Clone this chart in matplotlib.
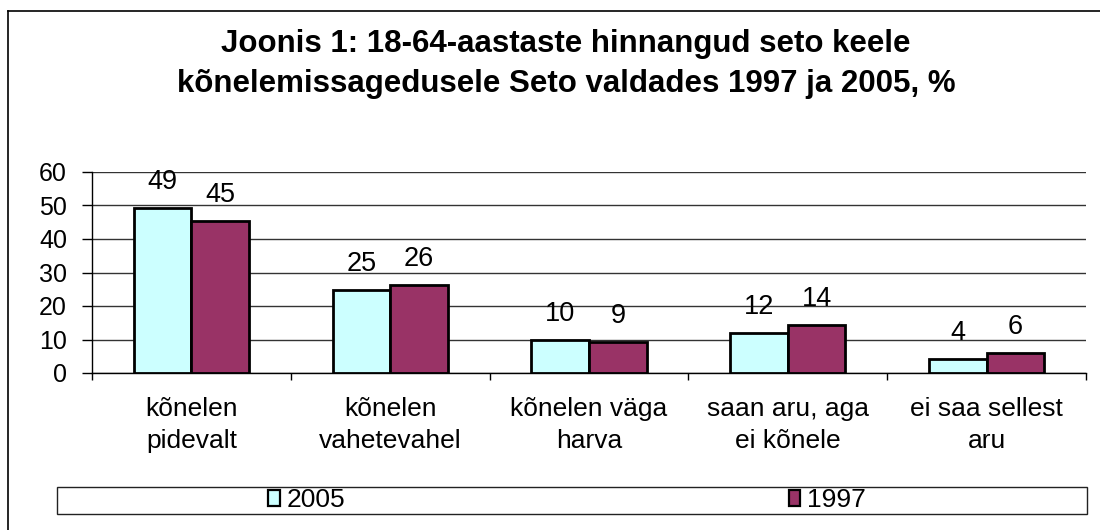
import matplotlib
matplotlib.use("Agg")
import matplotlib.pyplot as plt
from matplotlib.patches import Rectangle, Patch
from matplotlib.lines import Line2D
import numpy as np

categories = ["kõnelen\npidevalt", "kõnelen\nvahetevahel", "kõnelen väga\nharva",
              "saan aru, aga\nei kõnele", "ei saa sellest\naru"]
series_names = ["2005", "1997"]
values_2005 = [49.4, 24.8, 10.0, 12.0, 4.3]
values_1997 = [45.3, 26.2, 9.2, 14.3, 5.9]
yticks = [0, 10, 20, 30, 40, 50, 60]
title = "Joonis 1: 18-64-aastaste hinnangud seto keele\nkõnelemissagedusele Seto valdades 1997 ja 2005, %"

colors = ["#CCFFFF", "#993366"]

plt.rcParams['font.family'] = ['Liberation Sans', 'DejaVu Sans']

W, H = 1100, 530
fig = plt.figure(figsize=(11, 5.3), dpi=100)

def fx(px):
    return px / W

def fy(py):
    return 1 - py / H

# outer frame (left and top edges)
fig.add_artist(Line2D([fx(8), fx(8)], [fy(11), fy(540)], color="black", lw=1.2,
                      transform=fig.transFigure))
fig.add_artist(Line2D([fx(8), fx(1110)], [fy(11), fy(11)], color="black", lw=1.2,
                      transform=fig.transFigure))

ax = fig.add_axes([fx(92), fy(373), fx(1086) - fx(92), (373 - 172) / H])

x = np.arange(len(categories))
w = 0.29
b1 = ax.bar(x - w / 2, values_2005, w, color=colors[0], edgecolor="black", linewidth=2.0,
            label=series_names[0], zorder=3)
b2 = ax.bar(x + w / 2, values_1997, w, color=colors[1], edgecolor="black", linewidth=2.0,
            label=series_names[1], zorder=3)

for bars, vals in ((b1, values_2005), (b2, values_1997)):
    for rect, v in zip(bars, vals):
        ax.annotate(f"{v:.0f}", (rect.get_x() + rect.get_width() / 2, v),
                    xytext=(0, 13.5), textcoords="offset points",
                    ha="center", va="baseline", fontsize=19.5)

ax.set_xlim(-0.5, len(categories) - 0.5)
ax.set_ylim(0, 60)
ax.set_yticks(yticks)
ax.tick_params(axis="y", length=7, width=1, pad=11, labelsize=18, direction="out")
ax.set_xticks(x)
ax.set_xticklabels(categories, fontsize=19, linespacing=1.45)
ax.tick_params(axis="x", which="major", length=0, pad=17)
ax.set_xticks(np.arange(-0.5, len(categories)), minor=True)
ax.tick_params(axis="x", which="minor", length=5, width=1, direction="out")

ax.grid(axis="y", color="#333333", linewidth=1.0, zorder=0)
ax.set_axisbelow(True)
for s in ("top", "right"):
    ax.spines[s].set_visible(False)
for s in ("left", "bottom"):
    ax.spines[s].set_linewidth(1.0)
    ax.spines[s].set_color("black")

fig.text(fx(566), fy(64), title, ha="center", va="center", fontsize=22.5,
         fontweight="bold", linespacing=1.4)

# legend
fig.add_artist(Rectangle((fx(57), fy(514)), fx(1087) - fx(57), (514 - 487) / H,
                         transform=fig.transFigure, fill=False, edgecolor="#222222", lw=1.0))
handles = [Patch(facecolor=colors[0], edgecolor="black", linewidth=1.6),
           Patch(facecolor=colors[1], edgecolor="black", linewidth=1.6)]
fig.legend(handles, series_names, loc="center", bbox_to_anchor=(fx(567), fy(500)),
           ncol=2, frameon=False, fontsize=19, handlelength=0.45, handleheight=0.55,
           handletextpad=0.25, columnspacing=16.8, borderpad=0, borderaxespad=0)

fig.savefig("out.png", dpi=100)
